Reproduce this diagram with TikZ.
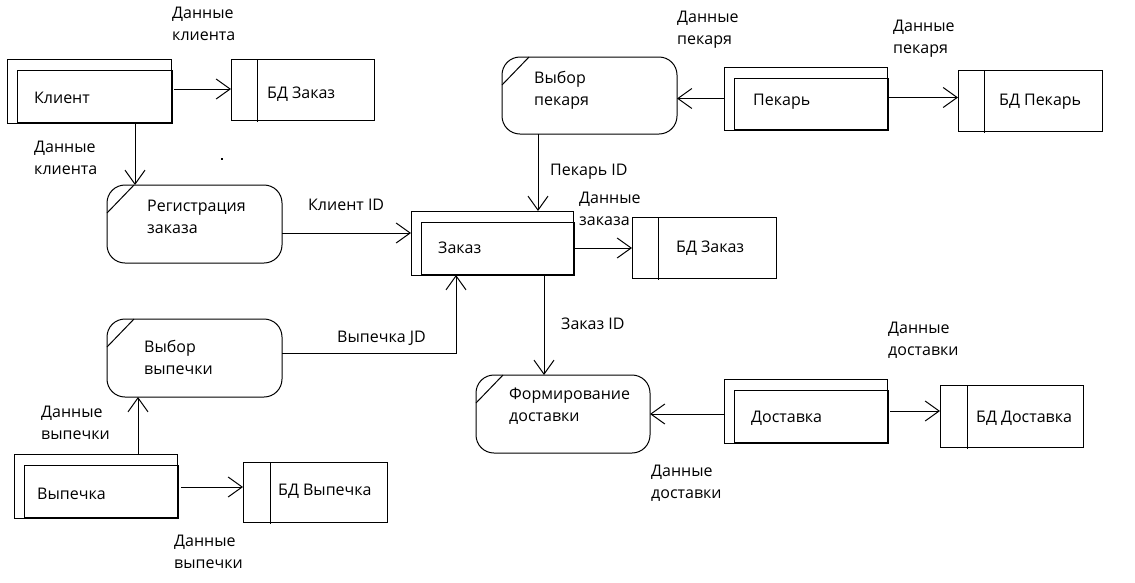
\documentclass[tikz,border=0pt]{standalone}
\usepackage{fontspec}
\setmainfont{Open Sans}
\usetikzlibrary{arrows.meta}
\tikzset{
  ln/.style={line width=1pt},
  flow/.style={ln, -{Straight Barb[length=14pt,width=20pt]}},
  entity/.style={draw, ln, rectangle, inner sep=0pt, outer sep=0pt},
  store/.style={draw, ln, rectangle, inner sep=0pt, outer sep=0pt},
  proc/.style={draw, ln, rectangle, rounded corners=18pt, inner sep=0pt, outer sep=0pt},
  txt/.style={anchor=west, inner sep=0pt, align=left, font=\fontsize{16}{22}\selectfont},
}
% inner frame of an external entity: offset box with heavy right and bottom edges
\newcommand\entinner[1]{%
  \draw[ln] ([xshift=10pt,yshift=-11pt]#1.north west) rectangle (#1.south east);
  \draw[line width=2pt] ([xshift=1pt,yshift=-11pt]#1.north east) -- ([xshift=1pt]#1.south east) -- ([xshift=10pt]#1.south west);
}
% divider of a data store
\newcommand\storebar[2]{%
  \draw[ln] ([xshift=#2]#1.north west) -- ([xshift=#2,yshift=-2pt]#1.south west);
}
% corner mark of a process
\newcommand\procmark[1]{%
  \draw[ln] ([yshift=-28pt]#1.north west) -- ([xshift=27pt]#1.north west);
}
\begin{document}
\begin{tikzpicture}[x=1pt,y=-1pt]
\useasboundingbox (0,0) rectangle (1135,582);

% external entities
\node[entity, minimum width=164pt, minimum height=64pt] (klient) at (89,91) {};
\node[entity, minimum width=163pt, minimum height=63pt] (pekar) at (805.5,98.5) {};
\node[entity, minimum width=162pt, minimum height=64pt] (zakaz) at (492,243) {};
\node[entity, minimum width=163pt, minimum height=64pt] (vypechka) at (95.5,486) {};
\node[entity, minimum width=163pt, minimum height=64pt] (dostavka) at (805.5,411) {};
\entinner{klient}
\entinner{pekar}
\entinner{zakaz}
\entinner{vypechka}
\entinner{dostavka}

% data stores
\node[store, minimum width=143pt, minimum height=61pt] (bdz1) at (302.5,89.5) {};
\node[store, minimum width=144pt, minimum height=61pt] (bdz2) at (704,247.5) {};
\node[store, minimum width=144pt, minimum height=61pt] (bdp) at (1030,100.5) {};
\node[store, minimum width=144pt, minimum height=60pt] (bdv) at (315,492) {};
\node[store, minimum width=143pt, minimum height=62pt] (bdd) at (1011.5,416) {};
\storebar{bdz1}{26pt}
\storebar{bdz2}{26pt}
\storebar{bdp}{26pt}
\storebar{bdv}{27pt}
\storebar{bdd}{27pt}

% processes
\node[proc, minimum width=175pt, minimum height=78pt] (reg) at (194.5,224) {};
\node[proc, minimum width=175pt, minimum height=77pt] (vpek) at (589.5,95.5) {};
\node[proc, minimum width=175pt, minimum height=78pt] (vvyp) at (194.5,358) {};
\node[proc, minimum width=174pt, minimum height=78pt] (form) at (563,414) {};
\procmark{reg}
\procmark{vpek}
\procmark{vvyp}
\procmark{form}

% texts in the shapes
\node[txt] (tklient) at (34,98) {Клиент};
\node[txt] (tpekar) at (753,102) {Пекарь};
\node[txt] (tzakaz) at (438,248) {Заказ};
\node[txt] (tvypechka) at (37,494) {Выпечка};
\node[txt] (tdostavka) at (751,418) {Доставка};
\node[txt] (tbdz1) at (267,94) {БД Заказ};
\node[txt] (tbdz2) at (676,248) {БД Заказ};
\node[txt] (tbdp) at (999,102) {БД Пекарь};
\node[txt] (tbdv) at (278,491) {БД Выпечка};
\node[txt] (tbdd) at (976,418) {БД Доставка};
\node[txt] (treg) at (147,217) {Регистрация\\заказа};
\node[txt] (tvpek) at (534,90) {Выбор\\пекаря};
\node[txt] (tvvyp) at (144,357) {Выбор\\выпечки};
\node[txt] (tform) at (509,406.5) {Формирование\\доставки};

% data flows
\draw[flow] ([xshift=3pt,yshift=2pt]klient.east) -- ([yshift=2pt]klient.east -| bdz1.west);
\draw[flow] ([xshift=46pt]klient.south) -- ([xshift=46pt]klient.south |- reg.north);
\draw[flow] ([yshift=-9pt]reg.east) -- ([yshift=-9pt]reg.east -| zakaz.west);
\draw[flow] (pekar.west) -- (pekar.west -| vpek.east);
\draw[flow] ([xshift=1pt,yshift=1pt]pekar.east) -- ([yshift=1pt]pekar.east -| bdp.west);
\draw[flow] ([xshift=-51.5pt]vpek.south) -- ([xshift=-51.5pt]vpek.south |- zakaz.north);
\draw[flow] ([xshift=1pt,yshift=-5pt]zakaz.east) -- ([yshift=-5pt]zakaz.east -| bdz2.west);
\draw[flow] ([yshift=5pt]vvyp.east) -| ([xshift=-36pt]zakaz.south);
\draw[flow] ([xshift=52pt]zakaz.south) -- ([xshift=52pt]zakaz.south |- form.north);
\draw[flow] ([xshift=42.5pt]vypechka.north) -- ([xshift=42.5pt]vypechka.north |- vvyp.south);
\draw[flow] ([xshift=4pt,yshift=-1pt]vypechka.east) -- ([yshift=-1pt]vypechka.east -| bdv.west);
\draw[flow] ([yshift=-3pt]dostavka.west) -- ([yshift=-3pt]dostavka.west -| form.east);
\draw[flow] ([xshift=3pt]dostavka.east) -- (dostavka.east -| bdd.west);

% flow labels
\node[txt] (l1) at (172,24) {Данные\\клиента};
\node[txt] (l2) at (34,157.5) {Данные\\клиента};
\node[txt] (l3) at (308,205) {Клиент ID};
\node[txt] (l4) at (677,30) {Данные\\пекаря};
\node[txt] (l5) at (893,39) {Данные\\пекаря};
\node[txt] (l6) at (550,172) {Пекарь ID};
\node[txt] (l7) at (579,208.5) {Данные\\заказа};
\node[txt] (l8) at (337,338) {Выпечка JD};
\node[txt] (l9) at (561,324) {Заказ ID};
\node[txt] (l10) at (41,423) {Данные\\выпечки};
\node[txt] (l11) at (174,552) {Данные\\выпечки};
\node[txt] (l12) at (888,340.5) {Данные\\доставки};
\node[txt] (l13) at (651,483) {Данные\\доставки};

% speck
\fill (221,158) rectangle (222.5,159.5);
\end{tikzpicture}
\end{document}
